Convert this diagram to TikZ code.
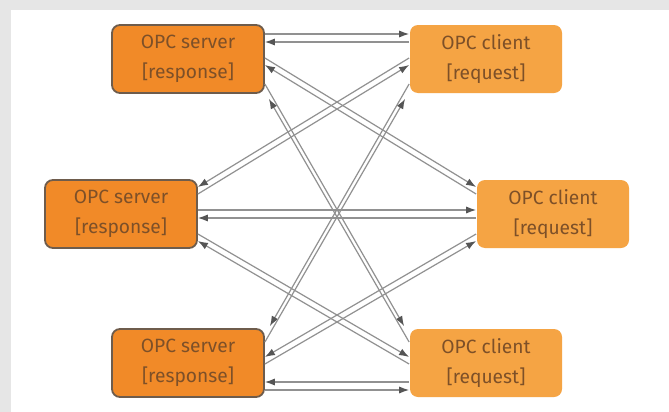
\documentclass[tikz,border=0pt]{standalone}
\usepackage{fontspec}
\setmainfont{Fira Sans}
\usepackage{xcolor}
\usepackage{tikz}
\usetikzlibrary{arrows.meta}

\definecolor{serverfill}{RGB}{241,138,40}
\definecolor{clientfill}{RGB}{245,164,68}
\definecolor{boxline}{RGB}{110,92,76}
\definecolor{boxtext}{RGB}{125,80,40}
\definecolor{linkgray}{RGB}{145,145,145}
\definecolor{tipgray}{RGB}{85,85,85}
\definecolor{framegray}{RGB}{230,230,230}

\begin{document}
\begin{tikzpicture}[
    x=0.5pt, y=-0.5pt,
    server/.style={rectangle, draw=boxline, line width=0.9pt, fill=serverfill, rounded corners=4pt, minimum width=76pt, minimum height=34pt, inner sep=0pt, align=center, text=boxtext, font=\fontsize{9.6}{15}\selectfont},
    client/.style={server, draw=none, fill=clientfill},
    link/.style={-{Latex[length=5pt,width=3.6pt,color=tipgray]}, draw=linkgray, line width=0.6pt}
]

% Frame
\fill[framegray] (0,0) rectangle (669,412);
\fill[white] (11,10) rectangle (669,412);

% Servers
\node[server] (s1) at (188,59) {OPC server\\{}[response]};
\node[server] (s2) at (121,214) {OPC server\\{}[response]};
\node[server] (s3) at (188,363) {OPC server\\{}[response]};

% Clients
\node[client] (c1) at (486,59) {OPC client\\{}[request]};
\node[client] (c2) at (553,214) {OPC client\\{}[request]};
\node[client] (c3) at (486,363) {OPC client\\{}[request]};

% Straight pairs
\draw[link] ([shift={(0,-25)}]s1.east) -- ([shift={(0,-25)}]c1.west);
\draw[link] ([shift={(0,-17)}]c1.west) -- ([shift={(0,-17)}]s1.east);
\draw[link] ([shift={(0,-4)}]s2.east) -- ([shift={(0,-4)}]c2.west);
\draw[link] ([shift={(0,4)}]c2.west) -- ([shift={(0,4)}]s2.east);
\draw[link] ([shift={(0,19)}]c3.west) -- ([shift={(0,19)}]s3.east);
\draw[link] ([shift={(0,27)}]s3.east) -- ([shift={(0,27)}]c3.west);

% Crossing pairs
\draw[link] ([shift={(0,-1)}]s1.east) -- ([shift={(0,-27)}]c2.west);
\draw[link] ([shift={(0,-20)}]c2.west) -- ([shift={(0,6)}]s1.east);
\draw[link] ([shift={(0,-1)}]c1.west) -- ([shift={(0,-27)}]s2.east);
\draw[link] ([shift={(0,-20)}]s2.east) -- ([shift={(0,6)}]c1.west);
\draw[link] ([shift={(0,20)}]s2.east) -- ([shift={(0,-6)}]c3.west);
\draw[link] ([shift={(0,1)}]c3.west) -- ([shift={(0,27)}]s2.east);
\draw[link] ([shift={(0,20)}]c2.west) -- ([shift={(0,-6)}]s3.east);
\draw[link] ([shift={(0,1)}]s3.east) -- ([shift={(0,27)}]c2.west);

% Long diagonals
\draw[link] ([shift={(0,25)}]s1.east) -- ([shift={(-5,-2)}]c3.north west);
\draw[link] ([shift={(0,-21)}]c3.west) -- ([shift={(4,5)}]s1.south east);
\draw[link] ([shift={(0,25)}]c1.west) -- ([shift={(5,-2)}]s3.north east);
\draw[link] ([shift={(0,-21)}]s3.east) -- ([shift={(-4,5)}]c1.south west);

\end{tikzpicture}
\end{document}
